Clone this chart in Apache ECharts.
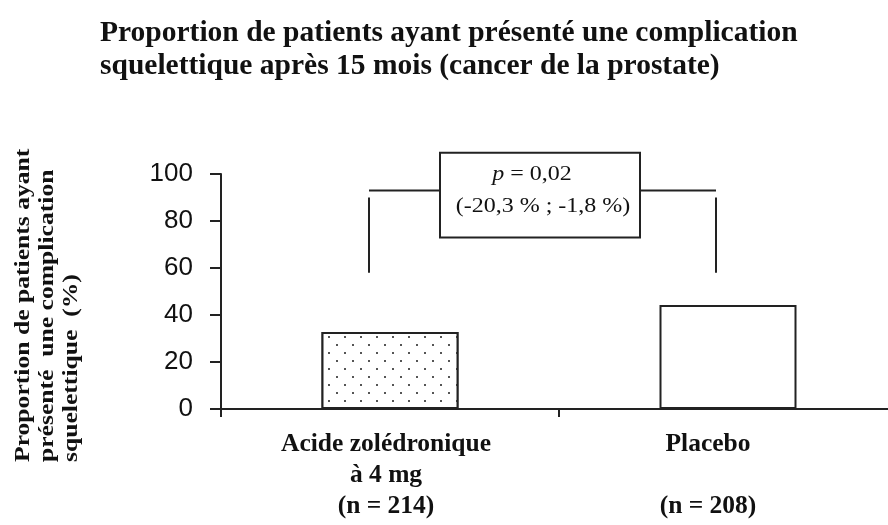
<!DOCTYPE html>
<html>
<head>
<meta charset="utf-8">
<script src="https://cdn.jsdelivr.net/npm/echarts@6/dist/echarts.min.js"></script>
<style>
  html, body { margin: 0; padding: 0; background: #fff; }
  #main { width: 888px; height: 525px; }
</style>
</head>
<body>
<div id="main"></div>
<script>
// données
const categories = ['Acide zolédronique\nà 4 mg\n(n = 214)', 'Placebo\n\n(n = 208)'];
const values = [32.8, 44.3];
const yMin = 0, yMax = 100, yStep = 20;

// annotation : crochet + encadré p
const bracketLegs = [58, 90];   // bas / haut des jambes du crochet (%)
const bracketBar = 93;          // niveau des traits horizontaux (%)
const pBox = [73, 109];         // bas / haut de l'encadré (%)
const pLines = ['p = 0,02', '(-20,3 % ; -1,8 %)'];

const yName = 'Proportion de patients ayant\nprésenté  une complication\nsquelettique  (%)';

const serif = '"Liberation Serif", "DejaVu Serif", serif';
const chart = echarts.init(document.getElementById('main'));

const option = {
  backgroundColor: '#fff',
  animation: false,
  title: {
    text: 'Proportion de patients ayant présenté une complication\nsquelettique après 15 mois (cancer de la prostate)',
    left: 95,
    top: 12,
    textStyle: { fontFamily: serif, fontWeight: 'bold', fontSize: 29.5, lineHeight: 33, color: '#111' }
  },
  grid: { left: 221, top: 174, width: 676, bottom: 116, outerBoundsMode: 'none' },
  xAxis: {
    type: 'category',
    data: categories.map((c, i) => i === 1
      ? { value: c, textStyle: { padding: [0, 40, 0, 0] } }
      : { value: c, textStyle: { padding: [0, 8, 0, 0] } }),
    axisLine: { lineStyle: { color: '#222', width: 2 } },
    axisTick: { show: true, interval: 0, length: 8, lineStyle: { color: '#222', width: 2 } },
    axisLabel: {
      interval: 0, margin: 20,
      fontFamily: serif, fontWeight: 'bold', fontSize: 25.5, lineHeight: 31, color: '#111'
    }
  },
  yAxis: {
    type: 'value',
    min: yMin, max: yMax, interval: yStep,
    splitLine: { show: false },
    axisLine: { show: true, lineStyle: { color: '#222', width: 2 } },
    axisTick: { show: true, length: 11, lineStyle: { color: '#222', width: 2 } },
    axisLabel: { margin: 28, fontFamily: '"Liberation Sans", Arial, sans-serif', fontSize: 26, color: '#111' }
  },
  series: [{
    type: 'bar',
    barWidth: 137,
    data: values.map((v, i) => ({
      value: v,
      itemStyle: i === 0 ? {
        color: '#fff',
        decal: {
          symbol: 'rect',
          symbolSize: 1,
          color: '#555',
          backgroundColor: '#fff',
          dashArrayX: [[2, 14], [0, 8, 2, 6]],
          dashArrayY: [2, 6]
        }
      } : { color: '#fff' }
    })),
    itemStyle: { borderColor: '#222', borderWidth: 2 }
  }]
};
chart.setOption(option);

// crochet et encadré placés à partir des axes
const toPx = (cat, v) => chart.convertToPixel({ xAxisIndex: 0, yAxisIndex: 0 }, [cat, v]);
const c0 = toPx(0, 0)[0], c1 = toPx(1, 0)[0];
const mid = (c0 + c1) / 2;
const legL = c0 - 21, legR = c1 - 12;
const yLegBot = toPx(0, bracketLegs[0])[1];
const yLegTop = toPx(0, bracketLegs[1])[1];
const yBar = toPx(0, bracketBar)[1];
const yBoxB = toPx(0, pBox[0])[1];
const yBoxT = toPx(0, pBox[1])[1];
const boxL = mid - 119, boxR = mid + 81;
const line = { stroke: '#222', lineWidth: 2 };

chart.setOption({
  graphic: [
    { type: 'line', shape: { x1: legL, y1: yLegBot, x2: legL, y2: yLegTop }, style: line },
    { type: 'line', shape: { x1: legL, y1: yBar, x2: boxL, y2: yBar }, style: line },
    { type: 'line', shape: { x1: legR, y1: yLegBot, x2: legR, y2: yLegTop }, style: line },
    { type: 'line', shape: { x1: boxR, y1: yBar, x2: legR, y2: yBar }, style: line },
    { type: 'rect', shape: { x: boxL, y: yBoxT, width: boxR - boxL, height: yBoxB - yBoxT },
      style: { fill: '#fff', stroke: '#222', lineWidth: 2 } },
    {
      type: 'text', x: mid - 27, y: yBoxT + 22, scaleX: 1.2,
      style: {
        text: '{i|p}' + pLines[0].slice(1),
        rich: { i: { fontStyle: 'italic', fontFamily: serif, fontSize: 20 } },
        font: '20px ' + serif, fill: '#111', align: 'center', verticalAlign: 'middle'
      }
    },
    {
      type: 'text', x: mid - 16, y: yBoxT + 54, scaleX: 1.2,
      style: { text: pLines[1], font: '20px ' + serif, fill: '#111', align: 'center', verticalAlign: 'middle' }
    },
    {
      type: 'text', x: 12, y: 462, rotation: Math.PI / 2, scaleX: 1.22,
      style: {
        text: yName, font: 'bold 21px ' + serif, lineHeight: 24, fill: '#111',
        align: 'left', verticalAlign: 'top'
      }
    }
  ]
});
</script>
</body>
</html>
